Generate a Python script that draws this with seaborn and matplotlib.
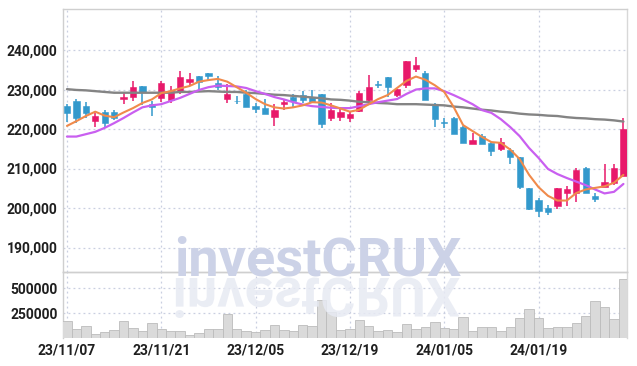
import numpy as np
import pandas as pd
import seaborn as sns
import matplotlib.pyplot as plt
from matplotlib.textpath import TextPath
from matplotlib.patches import PathPatch
from matplotlib.font_manager import FontProperties
import matplotlib.transforms as mtransforms

# --- data ---
# trading days, KRX holidays removed
dates = pd.bdate_range("2023-11-07", "2024-02-01", freq="C",
                       holidays=["2023-12-25", "2023-12-29", "2024-01-01"])
date_labels = [d.strftime("%y/%m/%d") for d in dates]

opens = [225800, 227100, 225800, 222100, 224200, 224200, 227500, 228000, 231000, 226300,
         227900, 227400, 229500, 232000, 233500, 234200, 231600, 227500, 227200, 229000,
         225800, 225400, 223100, 226300, 228000, 228600, 228200, 229000, 222700, 223100,
         222700, 224600, 227400, 231400, 233100, 228600, 231100, 235100, 234300, 226300,
         221800, 222700, 220600, 216100, 218300, 216400, 215000, 214700, 212800, 205000,
         202000, 200100, 200400, 203900, 203900, 210100, 203100, 205400, 206400, 208000]
closes = [224100, 222800, 224100, 223300, 221600, 222700, 228200, 230600, 229500, 225500,
          231600, 229700, 233100, 232700, 232000, 233500, 230600, 229000, 227000, 225700,
          225100, 223700, 224800, 226800, 227100, 227400, 226900, 221200, 224800, 224200,
          223700, 229200, 230600, 231200, 230600, 230100, 237200, 236200, 227400, 222500,
          221600, 218700, 216500, 217200, 216100, 214500, 216700, 213000, 205300, 199800,
          199300, 198900, 205000, 204800, 209600, 203900, 202300, 206700, 210100, 220000]
highs = [226300, 227600, 226900, 224100, 224800, 224800, 229500, 232200, 231000, 227100,
         232200, 230900, 234700, 234100, 233500, 234200, 233400, 231500, 228400, 229900,
         226700, 227500, 226300, 227500, 228900, 229700, 230000, 229000, 226700, 225300,
         224600, 229700, 233700, 232200, 233100, 230100, 237200, 238200, 234800, 226700,
         222700, 223100, 220800, 218900, 218700, 216600, 217700, 215300, 213000, 205000,
         202500, 200800, 205000, 205600, 210100, 210500, 203700, 211200, 211100, 222700]
lows = [221800, 221500, 222700, 220600, 220600, 222300, 226300, 227100, 226100, 223300,
        226900, 226500, 229000, 230900, 229900, 232500, 229900, 226600, 226300, 225700,
        224000, 223700, 220800, 224800, 225300, 226700, 226900, 220200, 222100, 222100,
        221800, 224400, 226700, 230300, 228200, 228000, 230300, 234500, 227400, 220600,
        220200, 218700, 216500, 216100, 216100, 213200, 214400, 211100, 204900, 199600,
        197800, 198300, 199800, 200500, 201600, 203900, 201500, 205300, 205800, 208000]
volume = [167000, 93000, 123000, 43000, 57000, 83000, 167000, 103000, 67000, 153000,
          93000, 73000, 73000, 33000, 47000, 93000, 93000, 237000, 93000, 73000,
          57000, 83000, 133000, 83000, 73000, 133000, 123000, 383000, 263000, 83000,
          93000, 183000, 123000, 73000, 83000, 63000, 143000, 93000, 113000, 163000,
          103000, 87000, 213000, 73000, 113000, 113000, 73000, 113000, 203000, 293000,
          203000, 103000, 113000, 113000, 153000, 223000, 373000, 313000, 193000, 593000]
ma_short = [220800, 222000, 223300, 224400, 223400, 223000, 224200, 225300, 226600, 227500,
            229100, 229600, 230300, 230900, 232000, 232400, 232700, 232000, 230600, 229200,
            227600, 226300, 225500, 225200, 225500, 226000, 226800, 226700, 226000, 225200,
            224400, 224900, 226300, 227600, 228600, 230400, 232200, 233300, 232500, 231100,
            229400, 225600, 221000, 219500, 218000, 216700, 216500, 214800, 212400, 208400,
            205300, 203100, 201900, 201900, 203800, 204700, 205100, 205500, 206400, 208400]
ma_mid = [218100, 218100, 218700, 219300, 220300, 221500, 222800, 224200, 225500, 226000,
          226300, 227100, 227900, 228900, 229900, 230600, 231000, 230900, 230800, 230400,
          229600, 228900, 228100, 227500, 226800, 226200, 225800, 225600, 225400, 225300,
          225300, 225800, 226300, 226800, 227200, 227600, 228900, 230000, 230300, 230300,
          229600, 228600, 227500, 226300, 224800, 224100, 222500, 220500, 218200, 215200,
          212700, 209900, 208600, 207600, 206700, 205800, 204700, 203700, 204100, 206100]
ma_long = [230100, 229900, 229800, 229600, 229400, 229200, 229200, 229200, 229200, 229200,
           229200, 229200, 229400, 229400, 229500, 229600, 229500, 229400, 229400, 229200,
           229100, 228900, 228700, 228600, 228400, 228200, 228000, 227800, 227500, 227400,
           227200, 226900, 226800, 226600, 226500, 226300, 226300, 226300, 226200, 226100,
           226000, 225700, 225500, 225200, 224900, 224700, 224400, 224200, 223900, 223700,
           223600, 223400, 223300, 223000, 222800, 222700, 222500, 222400, 222200, 221900]

price_ticks = [190000, 200000, 210000, 220000, 230000, 240000]
vol_ticks = [250000, 500000]

# --- style ---
sns.set_style("white")
plt.rcParams["font.family"] = ["Roboto", "DejaVu Sans"]

UP = "#e8196a"
DOWN = "#3399cc"
GRID = "#c9cfe0"
TXT = "#1f1f1f"

idx = np.arange(len(dates))
df = pd.DataFrame({"i": idx, "open": opens, "close": closes, "high": highs,
                   "low": lows, "vol": volume, "ma5": ma_short, "ma20": ma_mid,
                   "ma60": ma_long})
df["up"] = df["close"] >= df["open"]
df["color"] = np.where(df["up"], UP, DOWN)

fig = plt.figure(figsize=(6.37, 3.66), dpi=100)
ax = fig.add_axes([0.0989, 0.2568, 0.8854, 0.7186])
axv = fig.add_axes([0.0989, 0.0765, 0.8854, 0.1803], sharex=ax)

# watermark + its reflection, behind everything
wx, wy = 0.4984, 0.2486
fig.text(wx, wy, "investCRUX", fontsize=39, fontweight="bold",
         color="#ccd2e7", ha="center", va="baseline", zorder=0,
         family=["Roboto", "DejaVu Sans"])
fp = FontProperties(family=["Roboto", "DejaVu Sans"], weight="bold", size=39)
tp = TextPath((0, 0), "investCRUX", prop=fp)
bb = tp.get_extents()
px = 100 / 72.0
tr = (mtransforms.Affine2D().translate(-(bb.x0 + bb.x1) / 2, 0).scale(px, -px)
      .translate(wx * 637, wy * 366 - 3))
fig.patches.append(PathPatch(tp, transform=tr, facecolor="#e7eaf3",
                             edgecolor="none", alpha=0.85, zorder=0))

for a in (ax, axv):
    a.patch.set_alpha(0)

# candles: wicks then bodies
ax.vlines(df["i"], df["low"], df["high"], colors=df["color"], lw=1.1, zorder=3)
body_lo = np.minimum(df["open"], df["close"])
body_h = np.maximum(np.abs(df["close"] - df["open"]), 220)
ax.bar(df["i"], body_h, bottom=body_lo, width=0.66, color=df["color"],
       edgecolor=df["color"], linewidth=0.4, zorder=4)

# moving averages
sns.lineplot(data=df, x="i", y="ma60", ax=ax, color="#848484", lw=1.7, zorder=5)
sns.lineplot(data=df, x="i", y="ma20", ax=ax, color="#c95ff0", lw=1.6, zorder=5)
sns.lineplot(data=df, x="i", y="ma5", ax=ax, color="#f08a4b", lw=1.5, zorder=6)

# volume
sns.barplot(data=df, x="i", y="vol", ax=axv, color="#dadada", edgecolor="#bcbcbc",
            linewidth=0.6, width=1.0, native_scale=True, saturation=1, zorder=3)

tick_pos = list(range(0, len(dates), 10))
for a in (ax, axv):
    a.set_xlim(-0.42, 59.38)
    a.set_xlabel("")
    a.set_ylabel("")
    a.set_xticks(tick_pos)
    a.grid(True, color=GRID, linestyle=(0, (1.5, 2.5)), lw=0.9)
    a.set_axisbelow(True)
    a.tick_params(length=0, colors=TXT, labelsize=10, pad=4)
    for s in a.spines.values():
        s.set_color("#cfcfcf")
        s.set_linewidth(1.0)
    a.spines["right"].set_color("#d8d8d8")

ax.set_ylim(183800, 250400)
ax.set_yticks(price_ticks)
ax.set_yticklabels([f"{v:,}" for v in price_ticks], fontweight="bold")
ax.tick_params(labelbottom=False)

axv.set_ylim(0, 660000)
axv.set_yticks(vol_ticks)
axv.set_yticklabels([str(v) for v in vol_ticks], fontweight="bold")
axv.set_xticklabels([date_labels[i] for i in tick_pos], fontweight="bold")
axv.spines["bottom"].set_visible(False)
axv.tick_params(axis="x", pad=4)

fig.savefig("out.png", dpi=100)
